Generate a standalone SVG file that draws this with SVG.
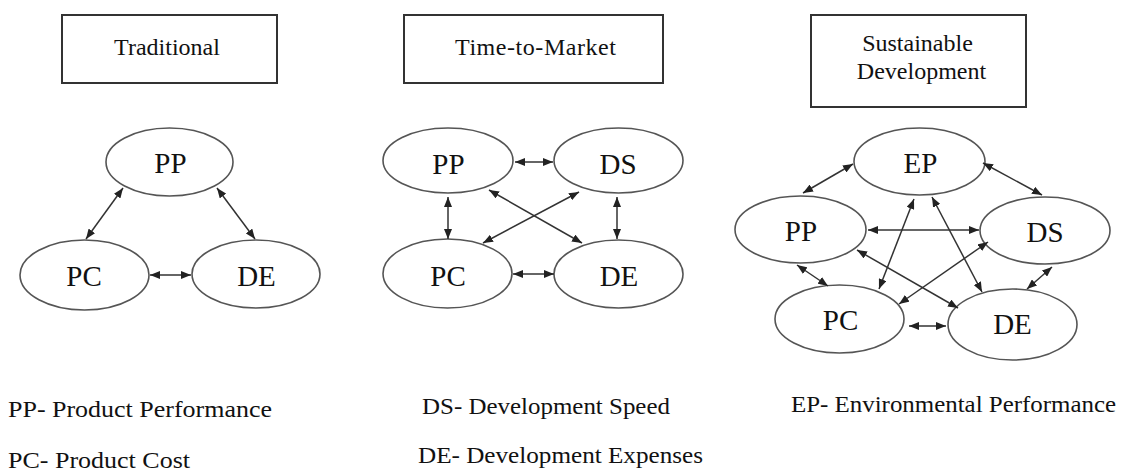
<svg xmlns="http://www.w3.org/2000/svg" width="1121" height="474" viewBox="0 0 1121 474">
<style>
.bg{fill:#ffffff}
.box{fill:#ffffff;stroke:#333;stroke-width:2}
.node{fill:#ffffff;stroke:#555;stroke-width:1.6}
.t{font-family:'Liberation Serif','DejaVu Serif',serif;fill:#111;text-anchor:middle}
.title{font-size:24px}
.nl{font-size:29px}
.lg{font-family:'Liberation Serif','DejaVu Serif',serif;fill:#111;font-size:23px}
.c{stroke:#333;stroke-width:1.5;fill:none;marker-start:url(#ah);marker-end:url(#ah)}
</style>
<defs>
<marker id="ah" viewBox="0 0 10 8" markerWidth="10" markerHeight="8" refX="10" refY="4" orient="auto-start-reverse" markerUnits="userSpaceOnUse">
<path d="M0,0 L10,4 L0,8 Z" fill="#222"/>
</marker>
</defs>
<rect class="bg" x="0" y="0" width="1121" height="474"/>

<!-- Traditional -->
<g id="title-traditional"><rect class="box" x="62" y="15" width="215" height="68"/><text class="t title" x="167" y="55">Traditional</text></g>
<g id="trad-pp"><ellipse class="node" cx="169.5" cy="162" rx="63.5" ry="34"/><text class="t nl" x="170.5" y="173">PP</text></g>
<g id="trad-pc"><ellipse class="node" cx="84.5" cy="275" rx="64.5" ry="35"/><text class="t nl" x="84" y="286">PC</text></g>
<g id="trad-de"><ellipse class="node" cx="256" cy="274" rx="64" ry="34"/><text class="t nl" x="256.5" y="286">DE</text></g>

<!-- Time-to-Market -->
<g id="title-ttm"><rect class="box" x="404" y="15" width="259" height="68"/><text class="t title" x="535.5" y="55" textLength="161" lengthAdjust="spacing">Time-to-Market</text></g>
<g id="ttm-pp"><ellipse class="node" cx="448" cy="160.5" rx="65" ry="32.5"/><text class="t nl" x="448.5" y="174">PP</text></g>
<g id="ttm-ds"><ellipse class="node" cx="618.5" cy="160.5" rx="64.5" ry="32.5"/><text class="t nl" x="618" y="174">DS</text></g>
<g id="ttm-pc"><ellipse class="node" cx="447.5" cy="273.5" rx="64.5" ry="34.5"/><text class="t nl" x="448" y="286">PC</text></g>
<g id="ttm-de"><ellipse class="node" cx="618.5" cy="274" rx="64.5" ry="34"/><text class="t nl" x="619" y="286">DE</text></g>

<!-- Sustainable Development -->
<g id="title-sd"><rect class="box" x="811" y="15" width="215" height="92"/><text class="t title" x="917.5" y="51">Sustainable</text><text class="t title" x="921.5" y="79">Development</text></g>
<g id="sd-ep"><ellipse class="node" cx="919.5" cy="161.5" rx="65.5" ry="33.5"/><text class="t nl" x="920.5" y="173">EP</text></g>
<g id="sd-pp"><ellipse class="node" cx="800.5" cy="229.5" rx="65.5" ry="33.5"/><text class="t nl" x="801" y="241">PP</text></g>
<g id="sd-ds"><ellipse class="node" cx="1045" cy="230.5" rx="65" ry="33.5"/><text class="t nl" x="1045" y="242">DS</text></g>
<g id="sd-pc"><ellipse class="node" cx="839.5" cy="319" rx="64.5" ry="34"/><text class="t nl" x="840.5" y="330">PC</text></g>
<g id="sd-de"><ellipse class="node" cx="1012.5" cy="324.5" rx="64.5" ry="35.5"/><text class="t nl" x="1012.5" y="334">DE</text></g>

<g id="connectors">
<line class="c" x1="123" y1="188" x2="86" y2="239"/>
<line class="c" x1="217" y1="188" x2="255" y2="239"/>
<line class="c" x1="150" y1="275" x2="191" y2="275"/>

<line class="c" x1="515" y1="162" x2="553" y2="162"/>
<line class="c" x1="448" y1="197" x2="448" y2="239"/>
<line class="c" x1="617" y1="197" x2="617" y2="239"/>
<line class="c" x1="513" y1="274" x2="554" y2="274"/>
<line class="c" x1="489" y1="190" x2="582" y2="243"/>
<line class="c" x1="579" y1="192" x2="483" y2="243"/>

<line class="c" x1="853" y1="164" x2="803" y2="193"/>
<line class="c" x1="983" y1="163" x2="1042" y2="195"/>
<line class="c" x1="868" y1="230" x2="979" y2="230"/>
<line class="c" x1="914" y1="199" x2="879" y2="289"/>
<line class="c" x1="932" y1="197" x2="982" y2="292"/>
<line class="c" x1="797" y1="265" x2="828" y2="286"/>
<line class="c" x1="857" y1="250" x2="958" y2="308"/>
<line class="c" x1="988" y1="242" x2="899" y2="304"/>
<line class="c" x1="1052" y1="267" x2="1027" y2="289"/>
<line class="c" x1="909" y1="326" x2="946" y2="326"/>
</g>

<g id="legend">
<text class="lg" x="8" y="417" textLength="264" lengthAdjust="spacingAndGlyphs">PP- Product Performance</text>
<text class="lg" x="8" y="468" textLength="182" lengthAdjust="spacingAndGlyphs">PC- Product Cost</text>
<text class="lg" x="422" y="414" textLength="248" lengthAdjust="spacingAndGlyphs">DS- Development Speed</text>
<text class="lg" x="418" y="463" textLength="285" lengthAdjust="spacingAndGlyphs">DE- Development Expenses</text>
<text class="lg" x="791" y="412" textLength="325" lengthAdjust="spacingAndGlyphs">EP- Environmental Performance</text>
</g>
</svg>
